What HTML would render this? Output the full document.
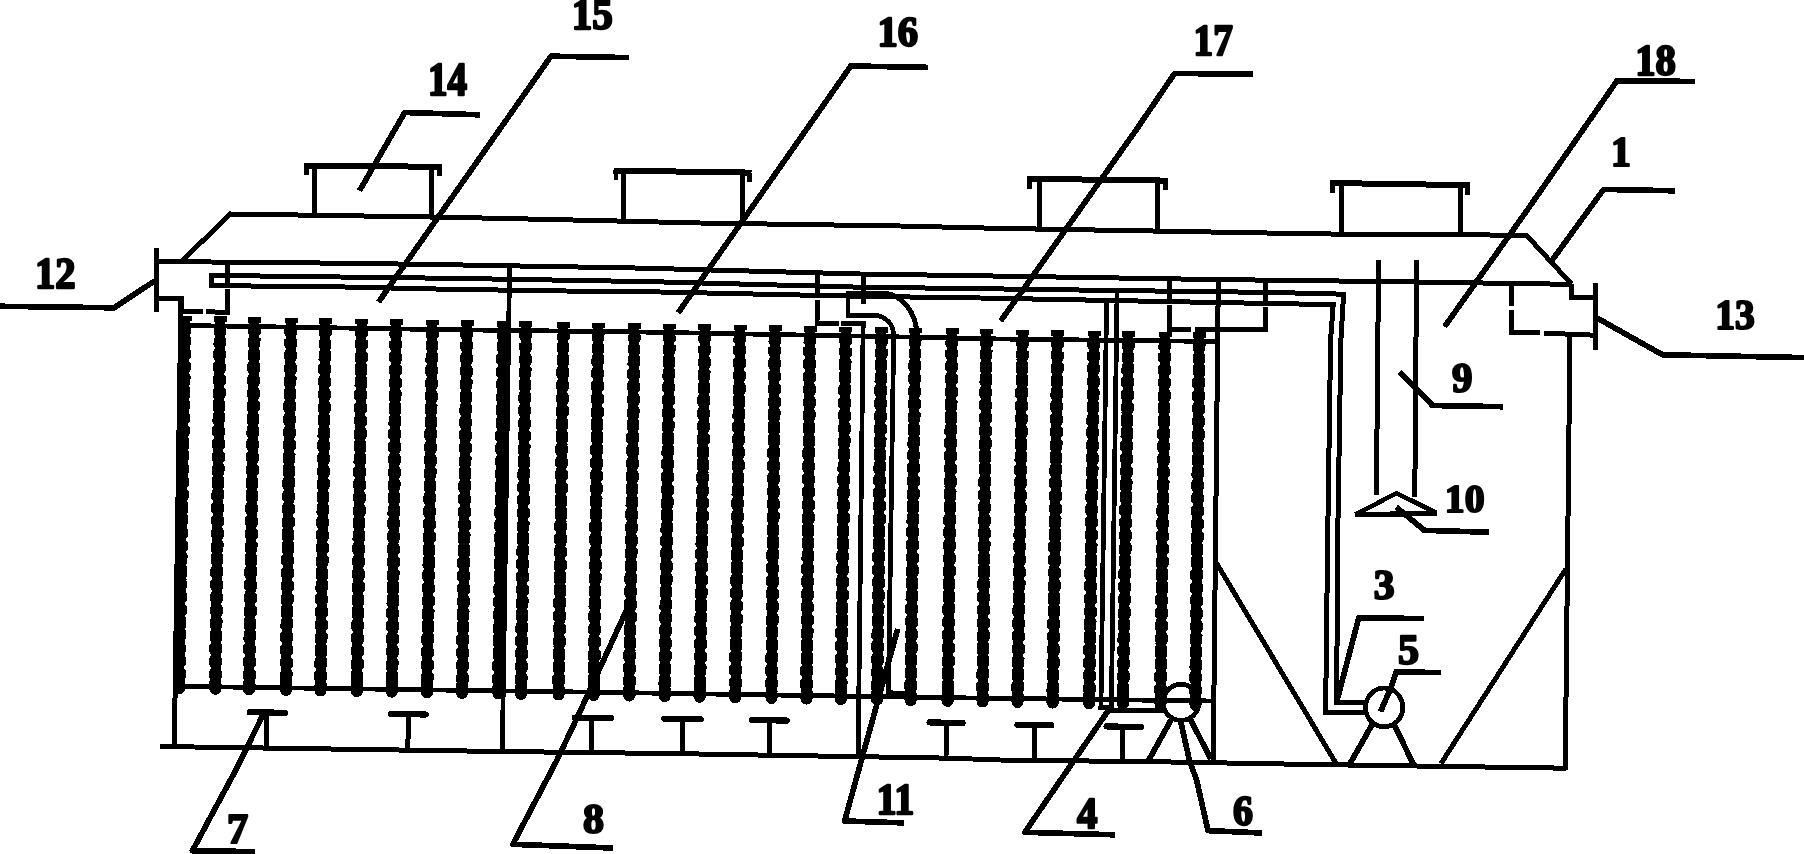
<!DOCTYPE html>
<html><head><meta charset="utf-8"><title>Figure</title>
<style>
html,body{margin:0;padding:0;background:#fff;}
body{width:1804px;height:854px;overflow:hidden;font-family:"Liberation Serif",serif;}
svg{display:block;}
svg .g *{fill:none;stroke:#000;}
svg text{font-family:"Liberation Serif",serif;font-weight:bold;font-size:43.6px;fill:#000;stroke:#000;stroke-width:2.3px;stroke-linejoin:round;}
</style></head><body>
<svg width="1804" height="854" viewBox="0 0 1804 854" shape-rendering="crispEdges">
<rect x="0" y="0" width="1804" height="854" fill="#fff"/>
<g class="g">
<polyline points="182.4,260.4 230.5,214.0 450.0,217.3 600.0,220.6 700.0,223.0 900.0,226.0 1000.0,228.4 1200.0,231.8 1300.0,233.6 1354.0,234.3 1526.4,235.2 1571.5,284.0" stroke-width="5" />
<polyline points="156.6,261.5 340.0,263.2 440.0,264.6 640.0,268.1 760.0,271.3 860.0,274.0 980.0,275.8 1200.0,279.3 1270.0,280.2 1390.0,281.6 1569.5,284.3" stroke-width="5" />
<polyline points="159.6,746.5 480.0,751.2 680.0,753.7 950.0,758.2 1000.0,760.0 1160.0,761.8 1300.0,764.3 1566.5,768.2" stroke-width="5" />
<polyline points="181.0,297.0 174.3,745.5" stroke-width="5" />
<polyline points="1570.0,336.0 1565.2,770.0" stroke-width="5" />
<polyline points="509.6,265.8 502.3,751.5" stroke-width="4.8" />
<polyline points="863.2,321.0 858.1,756.3" stroke-width="4.8" />
<polyline points="1218.3,279.5 1213.2,762.5" stroke-width="5" />
<polyline points="1214.6,560.0 1335.8,763.0" stroke-width="5" />
<polyline points="1566.0,568.8 1441.0,763.5" stroke-width="5" />
<polyline points="304.4,165.6 441.8,166.8" stroke-width="6" />
<polyline points="306.8,165.6 306.8,175.4" stroke-width="4.8" />
<polyline points="439.4,166.8 439.4,176.1" stroke-width="4.8" />
<polyline points="314.7,165.6 314.7,215.3" stroke-width="5" />
<polyline points="431.5,166.8 431.5,217.0" stroke-width="5" />
<polyline points="613.5,170.6 751.5,172.6" stroke-width="6" />
<polyline points="615.9,170.6 615.9,180.4" stroke-width="4.8" />
<polyline points="749.1,172.6 749.1,181.9" stroke-width="4.8" />
<polyline points="623.8,170.6 623.8,221.2" stroke-width="5" />
<polyline points="742.6,172.6 742.6,223.6" stroke-width="5" />
<polyline points="1027.2,178.8 1167.7,180.6" stroke-width="6" />
<polyline points="1029.6,178.8 1029.6,188.6" stroke-width="4.8" />
<polyline points="1165.3,180.6 1165.3,189.9" stroke-width="4.8" />
<polyline points="1039.3,178.8 1039.3,229.1" stroke-width="5" />
<polyline points="1157.8,180.6 1157.8,231.1" stroke-width="5" />
<polyline points="1329.7,183.0 1469.6,185.2" stroke-width="6" />
<polyline points="1332.1,183.0 1332.1,192.8" stroke-width="4.8" />
<polyline points="1467.2,185.2 1467.2,194.5" stroke-width="4.8" />
<polyline points="1341.0,183.0 1341.0,234.1" stroke-width="5" />
<polyline points="1460.0,185.2 1460.0,234.9" stroke-width="5" />
<polyline points="156.6,247.5 156.6,311.5" stroke-width="5" />
<polyline points="156.6,298.8 181.0,298.8 181.0,312.2" stroke-width="5" />
<polyline points="181.0,311.9 202.6,311.9" stroke-width="5" />
<polyline points="206.4,311.9 229.9,312.2" stroke-width="5" />
<polyline points="227.6,262.0 227.6,286.6" stroke-width="5" />
<polyline points="227.6,289.4 227.6,312.2" stroke-width="5" />
<polyline points="1571.5,284.0 1571.5,297.8 1595.0,297.8" stroke-width="5" />
<polyline points="1595.0,283.3 1595.0,350.4" stroke-width="5" />
<polyline points="1511.4,284.0 1511.4,305.5" stroke-width="5" />
<polyline points="1511.4,310.0 1511.4,332.6 1540.0,333.0" stroke-width="5" />
<polyline points="1544.0,333.2 1595.0,335.2" stroke-width="5" />
<polyline points="227.7,275.6 211.2,275.4 211.2,285.6 227.7,285.8" stroke-width="5" />
<polyline points="211.2,275.4 340.0,277.0 450.0,278.3 600.0,280.8 660.0,281.9 860.0,287.2 980.0,288.7 1200.0,291.6 1265.0,292.3 1343.6,294.2 1340.9,340.0 1337.6,544.0 1336.7,702.7 1365.5,702.7" stroke-width="5" />
<polyline points="211.2,285.6 340.0,286.9 450.0,289.3 600.0,291.5 660.0,292.0 860.0,296.3 980.0,298.0 1200.0,302.2 1265.0,303.4 1333.2,304.6 1330.6,340.0 1327.6,544.0 1325.6,712.6 1365.5,712.6" stroke-width="5" />
<polyline points="1117.1,290.6 1111.3,710.2 1163.0,710.2" stroke-width="4.8" />
<polyline points="1106.6,300.8 1100.9,707.5 1111.3,707.5" stroke-width="4.8" />
<polyline points="817.5,272.8 817.5,295.4" stroke-width="5" />
<polyline points="817.3,300.1 817.1,323.2 838.6,323.2" stroke-width="4.8" />
<polyline points="840.9,323.2 865.5,323.4" stroke-width="4.8" />
<polyline points="863.4,274.0 863.3,304.5" stroke-width="5" />
<polyline points="1169.6,278.8 1169.6,301.0" stroke-width="5" />
<polyline points="1169.4,305.1 1169.2,329.1 1190.9,329.1" stroke-width="4.8" />
<polyline points="1195.3,329.3 1267.4,329.6" stroke-width="4.8" />
<polyline points="1265.1,280.0 1265.1,303.4" stroke-width="5" />
<polyline points="1265.1,306.8 1265.1,332.0" stroke-width="5" />
<path d="M848,293 L886,293.2 C903,296 915,312 916.7,331" stroke-width="5"/>
<path d="M848,290.6 L848,315.3 L875.7,315.3 C886,317 893.5,324 893.7,336 L888.4,692.5 L906,694" stroke-width="4.8"/>
<polyline points="1378.6,259.7 1376.4,495.4" stroke-width="5" />
<polyline points="1416.6,259.7 1414.8,496.6" stroke-width="5" />
<path d="M1355.5,514.5 L1396.5,493.2 L1436.6,512.9 Z" stroke-width="4.6" stroke-linejoin="miter"/>
<polyline points="1355.5,515.0 1436.6,513.5" stroke-width="5" />
<polyline points="181.0,325.6 220.0,326.0 440.0,329.6 640.0,332.0 860.0,336.1 1000.0,339.0 1218.0,341.5" stroke-width="4.8" />
<polyline points="176.0,686.3 580.0,692.0 950.0,697.7 1213.8,701.0" stroke-width="4.8" />
<line x1="185.20" y1="317.1" x2="178.97" y2="690.2" stroke-width="10"/>
<line x1="184.86" y1="337.3" x2="179.00" y2="688.2" stroke-width="12.7" stroke-dasharray="7.5 5.3"/>
<line x1="184.86" y1="337.3" x2="179.00" y2="688.2" stroke-width="11.4" stroke-dasharray="10.4 2.4" stroke-dashoffset="1.45"/>
<line x1="185.02" y1="327.6" x2="184.94" y2="332.7" stroke-width="12.7"/>
<line x1="185.04" y1="326.6" x2="184.92" y2="334.1" stroke-width="11.4"/>
<line x1="179.12" y1="681.2" x2="179.00" y2="688.2" stroke-width="12" stroke-linecap="round"/>
<line x1="185.20" y1="315.8" x2="185.20" y2="321.3" stroke-width="13"/>
<line x1="220.20" y1="317.7" x2="215.25" y2="690.8" stroke-width="10"/>
<line x1="219.93" y1="337.9" x2="215.28" y2="688.8" stroke-width="12.7" stroke-dasharray="7.5 5.3"/>
<line x1="219.93" y1="337.9" x2="215.28" y2="688.8" stroke-width="11.4" stroke-dasharray="10.4 2.4" stroke-dashoffset="1.45"/>
<line x1="220.06" y1="328.2" x2="219.99" y2="333.3" stroke-width="12.7"/>
<line x1="220.07" y1="327.2" x2="219.97" y2="334.7" stroke-width="11.4"/>
<line x1="215.37" y1="681.8" x2="215.28" y2="688.8" stroke-width="12" stroke-linecap="round"/>
<line x1="220.20" y1="316.4" x2="220.20" y2="321.9" stroke-width="13"/>
<line x1="254.50" y1="318.3" x2="249.06" y2="691.4" stroke-width="10"/>
<line x1="254.21" y1="338.4" x2="249.09" y2="689.4" stroke-width="12.7" stroke-dasharray="7.5 5.3"/>
<line x1="254.21" y1="338.4" x2="249.09" y2="689.4" stroke-width="11.4" stroke-dasharray="10.4 2.4" stroke-dashoffset="1.45"/>
<line x1="254.35" y1="328.8" x2="254.27" y2="333.9" stroke-width="12.7"/>
<line x1="254.36" y1="327.8" x2="254.25" y2="335.3" stroke-width="11.4"/>
<line x1="249.19" y1="682.4" x2="249.09" y2="689.4" stroke-width="12" stroke-linecap="round"/>
<line x1="254.50" y1="317.0" x2="254.50" y2="322.5" stroke-width="13"/>
<line x1="291.00" y1="318.9" x2="285.95" y2="692.0" stroke-width="10"/>
<line x1="290.73" y1="339.0" x2="285.98" y2="690.0" stroke-width="12.7" stroke-dasharray="7.5 5.3"/>
<line x1="290.73" y1="339.0" x2="285.98" y2="690.0" stroke-width="11.4" stroke-dasharray="10.4 2.4" stroke-dashoffset="1.45"/>
<line x1="290.86" y1="329.4" x2="290.79" y2="334.5" stroke-width="12.7"/>
<line x1="290.87" y1="328.4" x2="290.77" y2="335.9" stroke-width="11.4"/>
<line x1="286.08" y1="683.0" x2="285.98" y2="690.0" stroke-width="12" stroke-linecap="round"/>
<line x1="291.00" y1="317.6" x2="291.00" y2="323.1" stroke-width="13"/>
<line x1="325.40" y1="319.4" x2="320.45" y2="692.5" stroke-width="10"/>
<line x1="325.13" y1="339.6" x2="320.48" y2="690.5" stroke-width="12.7" stroke-dasharray="7.5 5.3"/>
<line x1="325.13" y1="339.6" x2="320.48" y2="690.5" stroke-width="11.4" stroke-dasharray="10.4 2.4" stroke-dashoffset="1.45"/>
<line x1="325.26" y1="329.9" x2="325.19" y2="335.0" stroke-width="12.7"/>
<line x1="325.27" y1="328.9" x2="325.17" y2="336.4" stroke-width="11.4"/>
<line x1="320.57" y1="683.5" x2="320.48" y2="690.5" stroke-width="12" stroke-linecap="round"/>
<line x1="325.40" y1="318.1" x2="325.40" y2="323.6" stroke-width="13"/>
<line x1="361.70" y1="320.0" x2="356.85" y2="693.1" stroke-width="10"/>
<line x1="361.44" y1="340.2" x2="356.88" y2="691.1" stroke-width="12.7" stroke-dasharray="7.5 5.3"/>
<line x1="361.44" y1="340.2" x2="356.88" y2="691.1" stroke-width="11.4" stroke-dasharray="10.4 2.4" stroke-dashoffset="1.45"/>
<line x1="361.56" y1="330.5" x2="361.50" y2="335.6" stroke-width="12.7"/>
<line x1="361.58" y1="329.5" x2="361.48" y2="337.0" stroke-width="11.4"/>
<line x1="356.97" y1="684.1" x2="356.88" y2="691.1" stroke-width="12" stroke-linecap="round"/>
<line x1="361.70" y1="318.7" x2="361.70" y2="324.2" stroke-width="13"/>
<line x1="396.00" y1="320.6" x2="391.84" y2="693.7" stroke-width="10"/>
<line x1="395.78" y1="340.7" x2="391.87" y2="691.7" stroke-width="12.7" stroke-dasharray="7.5 5.3"/>
<line x1="395.78" y1="340.7" x2="391.87" y2="691.7" stroke-width="11.4" stroke-dasharray="10.4 2.4" stroke-dashoffset="1.45"/>
<line x1="395.88" y1="331.1" x2="395.83" y2="336.2" stroke-width="12.7"/>
<line x1="395.89" y1="330.1" x2="395.81" y2="337.6" stroke-width="11.4"/>
<line x1="391.94" y1="684.7" x2="391.87" y2="691.7" stroke-width="12" stroke-linecap="round"/>
<line x1="396.00" y1="319.3" x2="396.00" y2="324.8" stroke-width="13"/>
<line x1="432.40" y1="321.2" x2="426.96" y2="694.3" stroke-width="10"/>
<line x1="432.11" y1="341.3" x2="426.99" y2="692.3" stroke-width="12.7" stroke-dasharray="7.5 5.3"/>
<line x1="432.11" y1="341.3" x2="426.99" y2="692.3" stroke-width="11.4" stroke-dasharray="10.4 2.4" stroke-dashoffset="1.45"/>
<line x1="432.25" y1="331.7" x2="432.17" y2="336.8" stroke-width="12.7"/>
<line x1="432.26" y1="330.7" x2="432.15" y2="338.2" stroke-width="11.4"/>
<line x1="427.09" y1="685.3" x2="426.99" y2="692.3" stroke-width="12" stroke-linecap="round"/>
<line x1="432.40" y1="319.9" x2="432.40" y2="325.4" stroke-width="13"/>
<line x1="467.00" y1="321.7" x2="462.05" y2="694.9" stroke-width="10"/>
<line x1="466.73" y1="341.9" x2="462.08" y2="692.9" stroke-width="12.7" stroke-dasharray="7.5 5.3"/>
<line x1="466.73" y1="341.9" x2="462.08" y2="692.9" stroke-width="11.4" stroke-dasharray="10.4 2.4" stroke-dashoffset="1.45"/>
<line x1="466.86" y1="332.2" x2="466.79" y2="337.3" stroke-width="12.7"/>
<line x1="466.87" y1="331.2" x2="466.77" y2="338.7" stroke-width="11.4"/>
<line x1="462.17" y1="685.9" x2="462.08" y2="692.9" stroke-width="12" stroke-linecap="round"/>
<line x1="467.00" y1="320.4" x2="467.00" y2="325.9" stroke-width="13"/>
<line x1="503.30" y1="322.3" x2="498.35" y2="695.5" stroke-width="10"/>
<line x1="503.03" y1="342.5" x2="498.38" y2="693.5" stroke-width="12.7" stroke-dasharray="7.5 5.3"/>
<line x1="503.03" y1="342.5" x2="498.38" y2="693.5" stroke-width="11.4" stroke-dasharray="10.4 2.4" stroke-dashoffset="1.45"/>
<line x1="503.16" y1="332.8" x2="503.09" y2="337.9" stroke-width="12.7"/>
<line x1="503.17" y1="331.8" x2="503.07" y2="339.3" stroke-width="11.4"/>
<line x1="498.47" y1="686.5" x2="498.38" y2="693.5" stroke-width="12" stroke-linecap="round"/>
<line x1="503.30" y1="321.0" x2="503.30" y2="326.5" stroke-width="13"/>
<line x1="525.80" y1="322.7" x2="520.95" y2="695.8" stroke-width="10"/>
<line x1="525.54" y1="342.8" x2="520.98" y2="693.8" stroke-width="12.7" stroke-dasharray="7.5 5.3"/>
<line x1="525.54" y1="342.8" x2="520.98" y2="693.8" stroke-width="11.4" stroke-dasharray="10.4 2.4" stroke-dashoffset="1.45"/>
<line x1="525.66" y1="333.2" x2="525.60" y2="338.3" stroke-width="12.7"/>
<line x1="525.68" y1="332.2" x2="525.58" y2="339.7" stroke-width="11.4"/>
<line x1="521.07" y1="686.8" x2="520.98" y2="693.8" stroke-width="12" stroke-linecap="round"/>
<line x1="525.80" y1="321.4" x2="525.80" y2="326.9" stroke-width="13"/>
<line x1="563.40" y1="323.3" x2="558.55" y2="696.5" stroke-width="10"/>
<line x1="563.14" y1="343.4" x2="558.58" y2="694.5" stroke-width="12.7" stroke-dasharray="7.5 5.3"/>
<line x1="563.14" y1="343.4" x2="558.58" y2="694.5" stroke-width="11.4" stroke-dasharray="10.4 2.4" stroke-dashoffset="1.45"/>
<line x1="563.26" y1="333.8" x2="563.20" y2="338.9" stroke-width="12.7"/>
<line x1="563.28" y1="332.8" x2="563.18" y2="340.3" stroke-width="11.4"/>
<line x1="558.67" y1="687.5" x2="558.58" y2="694.5" stroke-width="12" stroke-linecap="round"/>
<line x1="563.40" y1="322.0" x2="563.40" y2="327.5" stroke-width="13"/>
<line x1="598.30" y1="323.9" x2="593.75" y2="697.0" stroke-width="10"/>
<line x1="598.05" y1="344.0" x2="593.77" y2="695.0" stroke-width="12.7" stroke-dasharray="7.5 5.3"/>
<line x1="598.05" y1="344.0" x2="593.77" y2="695.0" stroke-width="11.4" stroke-dasharray="10.4 2.4" stroke-dashoffset="1.45"/>
<line x1="598.17" y1="334.4" x2="598.11" y2="339.5" stroke-width="12.7"/>
<line x1="598.18" y1="333.4" x2="598.09" y2="340.9" stroke-width="11.4"/>
<line x1="593.86" y1="688.0" x2="593.77" y2="695.0" stroke-width="12" stroke-linecap="round"/>
<line x1="598.30" y1="322.6" x2="598.30" y2="328.1" stroke-width="13"/>
<line x1="634.40" y1="324.5" x2="629.16" y2="697.6" stroke-width="10"/>
<line x1="634.12" y1="344.6" x2="629.18" y2="695.6" stroke-width="12.7" stroke-dasharray="7.5 5.3"/>
<line x1="634.12" y1="344.6" x2="629.18" y2="695.6" stroke-width="11.4" stroke-dasharray="10.4 2.4" stroke-dashoffset="1.45"/>
<line x1="634.25" y1="335.0" x2="634.18" y2="340.1" stroke-width="12.7"/>
<line x1="634.27" y1="334.0" x2="634.16" y2="341.5" stroke-width="11.4"/>
<line x1="629.28" y1="688.6" x2="629.18" y2="695.6" stroke-width="12" stroke-linecap="round"/>
<line x1="634.40" y1="323.2" x2="634.40" y2="328.7" stroke-width="13"/>
<line x1="669.50" y1="325.0" x2="664.65" y2="698.2" stroke-width="10"/>
<line x1="669.24" y1="345.2" x2="664.68" y2="696.2" stroke-width="12.7" stroke-dasharray="7.5 5.3"/>
<line x1="669.24" y1="345.2" x2="664.68" y2="696.2" stroke-width="11.4" stroke-dasharray="10.4 2.4" stroke-dashoffset="1.45"/>
<line x1="669.36" y1="335.5" x2="669.30" y2="340.6" stroke-width="12.7"/>
<line x1="669.38" y1="334.5" x2="669.28" y2="342.0" stroke-width="11.4"/>
<line x1="664.77" y1="689.2" x2="664.68" y2="696.2" stroke-width="12" stroke-linecap="round"/>
<line x1="669.50" y1="323.7" x2="669.50" y2="329.2" stroke-width="13"/>
<line x1="704.80" y1="325.6" x2="699.75" y2="698.8" stroke-width="10"/>
<line x1="704.53" y1="345.8" x2="699.78" y2="696.8" stroke-width="12.7" stroke-dasharray="7.5 5.3"/>
<line x1="704.53" y1="345.8" x2="699.78" y2="696.8" stroke-width="11.4" stroke-dasharray="10.4 2.4" stroke-dashoffset="1.45"/>
<line x1="704.66" y1="336.1" x2="704.59" y2="341.2" stroke-width="12.7"/>
<line x1="704.67" y1="335.1" x2="704.57" y2="342.6" stroke-width="11.4"/>
<line x1="699.88" y1="689.8" x2="699.78" y2="696.8" stroke-width="12" stroke-linecap="round"/>
<line x1="704.80" y1="324.3" x2="704.80" y2="329.8" stroke-width="13"/>
<line x1="740.00" y1="326.2" x2="735.25" y2="699.4" stroke-width="10"/>
<line x1="739.74" y1="346.3" x2="735.28" y2="697.4" stroke-width="12.7" stroke-dasharray="7.5 5.3"/>
<line x1="739.74" y1="346.3" x2="735.28" y2="697.4" stroke-width="11.4" stroke-dasharray="10.4 2.4" stroke-dashoffset="1.45"/>
<line x1="739.87" y1="336.7" x2="739.80" y2="341.8" stroke-width="12.7"/>
<line x1="739.88" y1="335.7" x2="739.78" y2="343.2" stroke-width="11.4"/>
<line x1="735.37" y1="690.4" x2="735.28" y2="697.4" stroke-width="12" stroke-linecap="round"/>
<line x1="740.00" y1="324.9" x2="740.00" y2="330.4" stroke-width="13"/>
<line x1="775.00" y1="326.7" x2="771.44" y2="700.0" stroke-width="10"/>
<line x1="774.81" y1="346.9" x2="771.46" y2="698.0" stroke-width="12.7" stroke-dasharray="7.5 5.3"/>
<line x1="774.81" y1="346.9" x2="771.46" y2="698.0" stroke-width="11.4" stroke-dasharray="10.4 2.4" stroke-dashoffset="1.45"/>
<line x1="774.90" y1="337.2" x2="774.85" y2="342.3" stroke-width="12.7"/>
<line x1="774.91" y1="336.2" x2="774.84" y2="343.7" stroke-width="11.4"/>
<line x1="771.52" y1="691.0" x2="771.46" y2="698.0" stroke-width="12" stroke-linecap="round"/>
<line x1="775.00" y1="325.4" x2="775.00" y2="330.9" stroke-width="13"/>
<line x1="810.00" y1="327.3" x2="806.54" y2="700.6" stroke-width="10"/>
<line x1="809.81" y1="347.5" x2="806.56" y2="698.6" stroke-width="12.7" stroke-dasharray="7.5 5.3"/>
<line x1="809.81" y1="347.5" x2="806.56" y2="698.6" stroke-width="11.4" stroke-dasharray="10.4 2.4" stroke-dashoffset="1.45"/>
<line x1="809.90" y1="337.8" x2="809.86" y2="342.9" stroke-width="12.7"/>
<line x1="809.91" y1="336.8" x2="809.84" y2="344.3" stroke-width="11.4"/>
<line x1="806.62" y1="691.6" x2="806.56" y2="698.6" stroke-width="12" stroke-linecap="round"/>
<line x1="810.00" y1="326.0" x2="810.00" y2="331.5" stroke-width="13"/>
<line x1="845.60" y1="327.9" x2="840.95" y2="701.1" stroke-width="10"/>
<line x1="845.35" y1="348.0" x2="840.97" y2="699.1" stroke-width="12.7" stroke-dasharray="7.5 5.3"/>
<line x1="845.35" y1="348.0" x2="840.97" y2="699.1" stroke-width="11.4" stroke-dasharray="10.4 2.4" stroke-dashoffset="1.45"/>
<line x1="845.47" y1="338.4" x2="845.41" y2="343.5" stroke-width="12.7"/>
<line x1="845.48" y1="337.4" x2="845.39" y2="344.9" stroke-width="11.4"/>
<line x1="841.06" y1="692.1" x2="840.97" y2="699.1" stroke-width="12" stroke-linecap="round"/>
<line x1="845.60" y1="326.6" x2="845.60" y2="332.1" stroke-width="13"/>
<line x1="881.50" y1="328.5" x2="877.05" y2="701.7" stroke-width="10"/>
<line x1="881.26" y1="348.6" x2="877.07" y2="699.7" stroke-width="12.7" stroke-dasharray="7.5 5.3"/>
<line x1="881.26" y1="348.6" x2="877.07" y2="699.7" stroke-width="11.4" stroke-dasharray="10.4 2.4" stroke-dashoffset="1.45"/>
<line x1="881.37" y1="339.0" x2="881.31" y2="344.1" stroke-width="12.7"/>
<line x1="881.39" y1="338.0" x2="881.30" y2="345.5" stroke-width="11.4"/>
<line x1="877.16" y1="692.7" x2="877.07" y2="699.7" stroke-width="12" stroke-linecap="round"/>
<line x1="881.50" y1="327.2" x2="881.50" y2="332.7" stroke-width="13"/>
<line x1="915.30" y1="329.0" x2="910.55" y2="702.3" stroke-width="10"/>
<line x1="915.04" y1="349.2" x2="910.58" y2="700.3" stroke-width="12.7" stroke-dasharray="7.5 5.3"/>
<line x1="915.04" y1="349.2" x2="910.58" y2="700.3" stroke-width="11.4" stroke-dasharray="10.4 2.4" stroke-dashoffset="1.45"/>
<line x1="915.17" y1="339.5" x2="915.10" y2="344.6" stroke-width="12.7"/>
<line x1="915.18" y1="338.5" x2="915.08" y2="346.0" stroke-width="11.4"/>
<line x1="910.67" y1="693.3" x2="910.58" y2="700.3" stroke-width="12" stroke-linecap="round"/>
<line x1="915.30" y1="327.7" x2="915.30" y2="333.2" stroke-width="13"/>
<line x1="952.00" y1="329.6" x2="947.75" y2="702.9" stroke-width="10"/>
<line x1="951.77" y1="349.8" x2="947.77" y2="700.9" stroke-width="12.7" stroke-dasharray="7.5 5.3"/>
<line x1="951.77" y1="349.8" x2="947.77" y2="700.9" stroke-width="11.4" stroke-dasharray="10.4 2.4" stroke-dashoffset="1.45"/>
<line x1="951.88" y1="340.1" x2="951.82" y2="345.2" stroke-width="12.7"/>
<line x1="951.89" y1="339.1" x2="951.81" y2="346.6" stroke-width="11.4"/>
<line x1="947.85" y1="693.9" x2="947.77" y2="700.9" stroke-width="12" stroke-linecap="round"/>
<line x1="952.00" y1="328.3" x2="952.00" y2="333.8" stroke-width="13"/>
<line x1="986.40" y1="330.2" x2="982.54" y2="703.5" stroke-width="10"/>
<line x1="986.19" y1="350.3" x2="982.56" y2="701.5" stroke-width="12.7" stroke-dasharray="7.5 5.3"/>
<line x1="986.19" y1="350.3" x2="982.56" y2="701.5" stroke-width="11.4" stroke-dasharray="10.4 2.4" stroke-dashoffset="1.45"/>
<line x1="986.29" y1="340.7" x2="986.24" y2="345.8" stroke-width="12.7"/>
<line x1="986.30" y1="339.7" x2="986.22" y2="347.2" stroke-width="11.4"/>
<line x1="982.63" y1="694.5" x2="982.56" y2="701.5" stroke-width="12" stroke-linecap="round"/>
<line x1="986.40" y1="328.9" x2="986.40" y2="334.4" stroke-width="13"/>
<line x1="1022.60" y1="330.8" x2="1017.55" y2="704.0" stroke-width="10"/>
<line x1="1022.33" y1="350.9" x2="1017.58" y2="702.0" stroke-width="12.7" stroke-dasharray="7.5 5.3"/>
<line x1="1022.33" y1="350.9" x2="1017.58" y2="702.0" stroke-width="11.4" stroke-dasharray="10.4 2.4" stroke-dashoffset="1.45"/>
<line x1="1022.46" y1="341.3" x2="1022.39" y2="346.4" stroke-width="12.7"/>
<line x1="1022.47" y1="340.3" x2="1022.37" y2="347.8" stroke-width="11.4"/>
<line x1="1017.68" y1="695.0" x2="1017.58" y2="702.0" stroke-width="12" stroke-linecap="round"/>
<line x1="1022.60" y1="329.5" x2="1022.60" y2="335.0" stroke-width="13"/>
<line x1="1057.70" y1="331.4" x2="1052.65" y2="704.6" stroke-width="10"/>
<line x1="1057.43" y1="351.5" x2="1052.68" y2="702.6" stroke-width="12.7" stroke-dasharray="7.5 5.3"/>
<line x1="1057.43" y1="351.5" x2="1052.68" y2="702.6" stroke-width="11.4" stroke-dasharray="10.4 2.4" stroke-dashoffset="1.45"/>
<line x1="1057.56" y1="341.9" x2="1057.49" y2="347.0" stroke-width="12.7"/>
<line x1="1057.57" y1="340.9" x2="1057.47" y2="348.4" stroke-width="11.4"/>
<line x1="1052.78" y1="695.6" x2="1052.68" y2="702.6" stroke-width="12" stroke-linecap="round"/>
<line x1="1057.70" y1="330.1" x2="1057.70" y2="335.6" stroke-width="13"/>
<line x1="1094.00" y1="331.9" x2="1089.05" y2="705.2" stroke-width="10"/>
<line x1="1093.73" y1="352.1" x2="1089.08" y2="703.2" stroke-width="12.7" stroke-dasharray="7.5 5.3"/>
<line x1="1093.73" y1="352.1" x2="1089.08" y2="703.2" stroke-width="11.4" stroke-dasharray="10.4 2.4" stroke-dashoffset="1.45"/>
<line x1="1093.86" y1="342.4" x2="1093.79" y2="347.5" stroke-width="12.7"/>
<line x1="1093.87" y1="341.4" x2="1093.77" y2="348.9" stroke-width="11.4"/>
<line x1="1089.17" y1="696.2" x2="1089.08" y2="703.2" stroke-width="12" stroke-linecap="round"/>
<line x1="1094.00" y1="330.6" x2="1094.00" y2="336.1" stroke-width="13"/>
<line x1="1128.40" y1="332.5" x2="1122.86" y2="705.8" stroke-width="10"/>
<line x1="1128.10" y1="352.7" x2="1122.89" y2="703.8" stroke-width="12.7" stroke-dasharray="7.5 5.3"/>
<line x1="1128.10" y1="352.7" x2="1122.89" y2="703.8" stroke-width="11.4" stroke-dasharray="10.4 2.4" stroke-dashoffset="1.45"/>
<line x1="1128.24" y1="343.0" x2="1128.17" y2="348.1" stroke-width="12.7"/>
<line x1="1128.26" y1="342.0" x2="1128.15" y2="349.5" stroke-width="11.4"/>
<line x1="1122.99" y1="696.8" x2="1122.89" y2="703.8" stroke-width="12" stroke-linecap="round"/>
<line x1="1128.40" y1="331.2" x2="1128.40" y2="336.7" stroke-width="13"/>
<line x1="1165.00" y1="333.1" x2="1160.45" y2="706.4" stroke-width="10"/>
<line x1="1164.75" y1="353.3" x2="1160.47" y2="704.4" stroke-width="12.7" stroke-dasharray="7.5 5.3"/>
<line x1="1164.75" y1="353.3" x2="1160.47" y2="704.4" stroke-width="11.4" stroke-dasharray="10.4 2.4" stroke-dashoffset="1.45"/>
<line x1="1164.87" y1="343.6" x2="1164.81" y2="348.7" stroke-width="12.7"/>
<line x1="1164.88" y1="342.6" x2="1164.79" y2="350.1" stroke-width="11.4"/>
<line x1="1160.56" y1="697.4" x2="1160.47" y2="704.4" stroke-width="12" stroke-linecap="round"/>
<line x1="1165.00" y1="331.8" x2="1165.00" y2="337.3" stroke-width="13"/>
<line x1="1199.30" y1="333.7" x2="1195.44" y2="707.0" stroke-width="10"/>
<line x1="1199.09" y1="353.8" x2="1195.46" y2="705.0" stroke-width="12.7" stroke-dasharray="7.5 5.3"/>
<line x1="1199.09" y1="353.8" x2="1195.46" y2="705.0" stroke-width="11.4" stroke-dasharray="10.4 2.4" stroke-dashoffset="1.45"/>
<line x1="1199.19" y1="344.2" x2="1199.14" y2="349.3" stroke-width="12.7"/>
<line x1="1199.20" y1="343.2" x2="1199.12" y2="350.7" stroke-width="11.4"/>
<line x1="1195.53" y1="698.0" x2="1195.46" y2="705.0" stroke-width="12" stroke-linecap="round"/>
<line x1="1199.30" y1="332.4" x2="1199.30" y2="337.9" stroke-width="13"/>
<polyline points="249.8,712.2 284.9,712.8" stroke-width="6.2" stroke-linecap="round"/>
<polyline points="266.9,712.2 266.5,746.5" stroke-width="5" />
<polyline points="391.1,713.9 425.7,714.5" stroke-width="6.2" stroke-linecap="round"/>
<polyline points="408.3,713.9 407.9,749.0" stroke-width="5" />
<polyline points="574.8,717.7 611.1,718.3" stroke-width="6.2" stroke-linecap="round"/>
<polyline points="591.6,717.7 591.2,752.0" stroke-width="5" />
<polyline points="664.3,718.6 700.7,719.2" stroke-width="6.2" stroke-linecap="round"/>
<polyline points="682.7,718.6 682.3,753.5" stroke-width="5" />
<polyline points="752.2,720.0 786.8,720.6" stroke-width="6.2" stroke-linecap="round"/>
<polyline points="769.8,720.0 769.4,755.0" stroke-width="5" />
<polyline points="929.5,722.4 962.5,723.0" stroke-width="6.2" stroke-linecap="round"/>
<polyline points="946.4,722.4 946.0,757.7" stroke-width="5" />
<polyline points="1017.5,724.8 1051.4,725.4" stroke-width="6.2" stroke-linecap="round"/>
<polyline points="1034.6,724.8 1034.2,760.0" stroke-width="5" />
<polyline points="1106.5,726.4 1140.8,727.0" stroke-width="6.2" stroke-linecap="round"/>
<polyline points="1122.8,726.4 1122.4,760.7" stroke-width="5" />
<circle cx="1181" cy="702.4" r="18" stroke-width="4.8" style="fill:none"/>
<polyline points="1161.0,701.0 1213.8,701.0" stroke-width="4.8" />
<polyline points="1171.0,720.0 1148.8,760.0" stroke-width="5.7" />
<polyline points="1190.5,719.5 1210.8,759.0" stroke-width="5.7" />
<ellipse cx="1384.2" cy="707.4" rx="18.6" ry="19.4" stroke-width="4.8" style="fill:none"/>
<polyline points="1372.5,724.0 1350.0,763.5" stroke-width="5.7" />
<polyline points="1394.3,725.0 1413.3,764.0" stroke-width="5.7" />
<polyline points="0.0,306.3 94.0,307.5 114.0,307.8 154.5,281.0" stroke-width="5.7" stroke-linejoin="round"/>
<polyline points="359.5,190.7 404.8,112.5 479.8,114.8" stroke-width="5.7" stroke-linejoin="round"/>
<polyline points="378.6,302.0 551.0,56.2 628.9,57.6" stroke-width="5.7" stroke-linejoin="round"/>
<polyline points="678.2,312.7 850.8,66.0 928.1,67.4" stroke-width="5.7" stroke-linejoin="round"/>
<polyline points="1000.6,321.0 1030.0,280.0 1136.1,130.0 1174.6,73.4 1253.0,74.3" stroke-width="5.7" stroke-linejoin="round"/>
<polyline points="1444.6,326.6 1527.3,210.0 1617.0,80.8 1695.1,81.5" stroke-width="5.7" stroke-linejoin="round"/>
<polyline points="1551.4,261.2 1603.6,189.4 1675.1,190.8" stroke-width="5.7" stroke-linejoin="round"/>
<polyline points="1597.0,318.0 1662.6,354.8 1804.0,357.6" stroke-width="5.7" stroke-linejoin="round"/>
<polyline points="1399.7,372.2 1432.5,405.5 1502.8,406.7" stroke-width="5.7" stroke-linejoin="round"/>
<polyline points="1396.2,507.0 1424.3,530.3 1488.7,532.2" stroke-width="5.7" stroke-linejoin="round"/>
<polyline points="1336.4,702.9 1358.8,617.8 1424.0,618.6" stroke-width="5.7" stroke-linejoin="round"/>
<polyline points="1380.5,711.6 1389.3,691.6 1391.5,686.4 1396.1,671.9 1441.0,672.6" stroke-width="5.7" stroke-linejoin="round"/>
<polyline points="1180.6,721.0 1189.6,761.1 1196.6,780.0 1208.0,830.6 1262.3,833.0" stroke-width="5.7" stroke-linejoin="round"/>
<polyline points="1110.2,707.7 1072.2,763.1 1024.8,832.3 1114.9,834.8" stroke-width="5.7" stroke-linejoin="round"/>
<polyline points="897.7,628.9 844.6,821.0 904.0,822.9" stroke-width="5.7" stroke-linejoin="round"/>
<polyline points="627.4,608.2 579.5,712.7 557.0,760.0 512.8,844.3 612.9,848.0" stroke-width="5.7" stroke-linejoin="round"/>
<polyline points="262.8,715.2 235.8,770.0 192.4,850.8 255.0,851.6" stroke-width="5.7" stroke-linejoin="round"/>
</g>
<g style="opacity:0.999">
<text transform="translate(35.04,288.19) scale(0.932,1.013)" x="0" y="0">12</text>
<text transform="translate(427.91,95.16) scale(0.895,1.042)" x="0" y="0">14</text>
<text transform="translate(571.82,28.79) scale(0.941,1.010)" x="0" y="0">15</text>
<text transform="translate(877.54,45.61) scale(0.932,0.990)" x="0" y="0">16</text>
<text transform="translate(1193.60,55.10) scale(0.898,0.997)" x="0" y="0">17</text>
<text transform="translate(1635.23,75.05) scale(0.934,1.005)" x="0" y="0">18</text>
<text transform="translate(1610.98,166.03) scale(0.911,0.974)" x="0" y="0">1</text>
<text transform="translate(1715.19,328.63) scale(0.907,0.974)" x="0" y="0">13</text>
<text transform="translate(1451.90,392.34) scale(0.938,0.958)" x="0" y="0">9</text>
<text transform="translate(1444.78,512.26) scale(0.912,0.942)" x="0" y="0">10</text>
<text transform="translate(1373.84,598.93) scale(0.957,0.968)" x="0" y="0">3</text>
<text transform="translate(1397.94,663.71) scale(0.965,0.987)" x="0" y="0">5</text>
<text transform="translate(1233.10,825.42) scale(0.918,0.981)" x="0" y="0">6</text>
<text transform="translate(1076.93,828.48) scale(0.935,1.016)" x="0" y="0">4</text>
<text transform="translate(876.46,814.21) scale(0.921,0.994)" x="0" y="0">11</text>
<text transform="translate(583.10,833.03) scale(0.964,0.974)" x="0" y="0">8</text>
<text transform="translate(226.93,843.03) scale(0.971,0.971)" x="0" y="0">7</text>
</g>
</svg>
</body></html>
